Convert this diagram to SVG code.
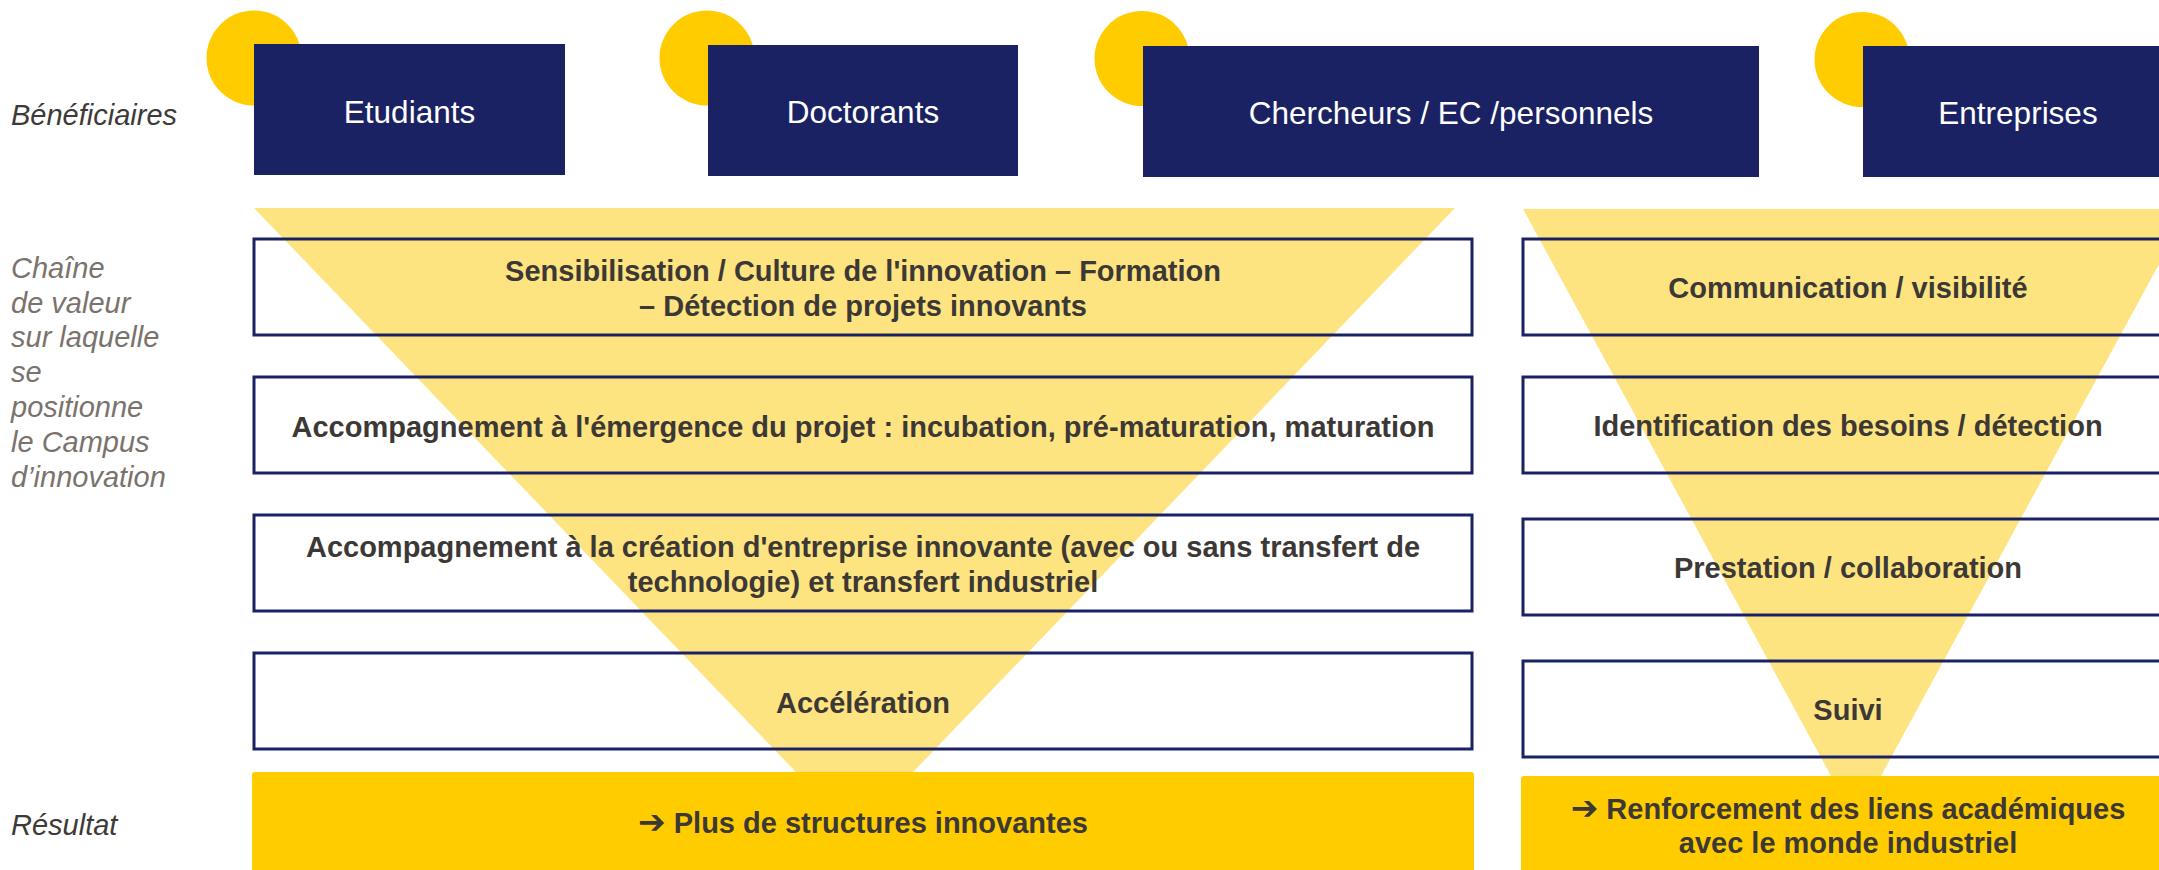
<svg xmlns="http://www.w3.org/2000/svg" width="2159" height="870" viewBox="0 0 2159 870">
<style>
.lbl{font-family:"Liberation Sans",Arial,sans-serif;font-style:italic;font-size:29px;fill:#3d3a38}
.lbl2{font-family:"Liberation Sans",Arial,sans-serif;font-style:italic;font-size:29px;fill:#7a736d}
.ben{fill:#1b2263}
.bt{font-family:"Liberation Sans",Arial,sans-serif;font-size:31.5px;fill:#ffffff;text-anchor:middle}
.dot{fill:#ffcc00}
.tri{fill:#fde481}
.step{fill:none;stroke:#1b2263;stroke-width:3}
.res{fill:#ffcc00}
.st{font-family:"Liberation Sans",Arial,"DejaVu Sans",sans-serif;font-weight:bold;font-size:29px;fill:#3c3835;text-anchor:middle}
.arr{font-family:"DejaVu Sans",sans-serif;font-size:33px}
</style>
<rect width="2159" height="870" fill="#ffffff"/>

<g id="labels">
<text class="lbl" x="11" y="125">Bénéficiaires</text>
<text class="lbl2" x="11" y="278">Chaîne</text>
<text class="lbl2" x="11" y="313">de valeur</text>
<text class="lbl2" x="11" y="347">sur laquelle</text>
<text class="lbl2" x="11" y="382">se</text>
<text class="lbl2" x="11" y="417">positionne</text>
<text class="lbl2" x="11" y="452">le Campus</text>
<text class="lbl2" x="11" y="487">d’innovation</text>
<text class="lbl" x="11" y="835">Résultat</text>
</g>

<g id="beneficiaires">
<g id="ben-etudiants">
<circle class="dot" cx="254" cy="58" r="47.5"/>
<rect class="ben" x="254" y="44" width="311" height="131"/>
<text class="bt" x="409.5" y="123">Etudiants</text>
</g>
<g id="ben-doctorants">
<circle class="dot" cx="707" cy="58" r="47.5"/>
<rect class="ben" x="708" y="45" width="310" height="131"/>
<text class="bt" x="863" y="123">Doctorants</text>
</g>
<g id="ben-chercheurs">
<circle class="dot" cx="1142" cy="58.5" r="47.5"/>
<rect class="ben" x="1143" y="46" width="616" height="131"/>
<text class="bt" x="1451" y="124">Chercheurs / EC /personnels</text>
</g>
<g id="ben-entreprises">
<circle class="dot" cx="1862" cy="59.5" r="47.5"/>
<rect class="ben" x="1863" y="46" width="310" height="131"/>
<text class="bt" x="2018" y="124">Entreprises</text>
</g>
</g>

<g id="funnels">
<polygon class="tri" points="254,208 1455,208 854.5,833"/>
<polygon class="tri" points="1523,209 2189,209 1856,822"/>
</g>

<g id="chain-left">
<g id="step-sensibilisation">
<rect class="step" x="254" y="239" width="1218" height="96"/>
<text class="st" x="863" y="281">Sensibilisation / Culture de l'innovation – Formation</text>
<text class="st" x="863" y="316">– Détection de projets innovants</text>
</g>
<g id="step-emergence">
<rect class="step" x="254" y="377" width="1218" height="96"/>
<text class="st" x="863" y="437">Accompagnement à l'émergence du projet : incubation, pré-maturation, maturation</text>
</g>
<g id="step-creation">
<rect class="step" x="254" y="515" width="1218" height="96"/>
<text class="st" x="863" y="557">Accompagnement à la création d'entreprise innovante (avec ou sans transfert de</text>
<text class="st" x="863" y="592">technologie) et transfert industriel</text>
</g>
<g id="step-acceleration">
<rect class="step" x="254" y="653" width="1218" height="96"/>
<text class="st" x="863" y="713">Accélération</text>
</g>
</g>

<g id="chain-right">
<g id="step-communication">
<rect class="step" x="1523" y="239" width="650" height="96"/>
<text class="st" x="1848" y="298">Communication / visibilité</text>
</g>
<g id="step-identification">
<rect class="step" x="1523" y="377" width="650" height="96"/>
<text class="st" x="1848" y="436">Identification des besoins / détection</text>
</g>
<g id="step-prestation">
<rect class="step" x="1523" y="519" width="650" height="96"/>
<text class="st" x="1848" y="578">Prestation / collaboration</text>
</g>
<g id="step-suivi">
<rect class="step" x="1523" y="661" width="650" height="96"/>
<text class="st" x="1848" y="720">Suivi</text>
</g>
</g>

<g id="results">
<g id="res-left">
<rect class="res" x="252" y="772" width="1222" height="120" rx="3"/>
<text class="st" x="863" y="833"><tspan class="arr">➔</tspan> Plus de structures innovantes</text>
</g>
<g id="res-right">
<rect class="res" x="1521" y="776" width="660" height="120" rx="3"/>
<text class="st" x="1848" y="819"><tspan class="arr">➔</tspan> Renforcement des liens académiques</text>
<text class="st" x="1848" y="853">avec le monde industriel</text>
</g>
</g>

<g id="connectors"></g>
</svg>
